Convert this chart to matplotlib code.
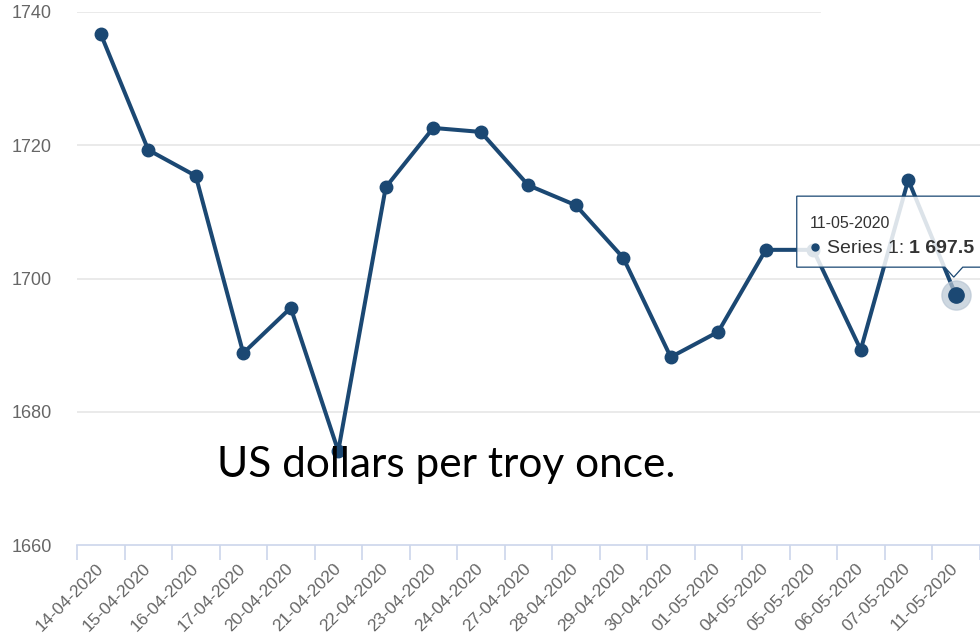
import matplotlib.pyplot as plt
import matplotlib.transforms as mtransforms
from matplotlib.path import Path
from matplotlib.patches import PathPatch

plt.rcParams["font.family"] = ["Liberation Sans", "DejaVu Sans"]

dates = [
    "14-04-2020", "15-04-2020", "16-04-2020", "17-04-2020", "20-04-2020",
    "21-04-2020", "22-04-2020", "23-04-2020", "24-04-2020", "27-04-2020",
    "28-04-2020", "29-04-2020", "30-04-2020", "01-05-2020", "04-05-2020",
    "05-05-2020", "06-05-2020", "07-05-2020", "11-05-2020",
]
prices = [
    1736.7, 1719.3, 1715.4, 1688.8, 1695.6,
    1674.1, 1713.7, 1722.6, 1722.0, 1714.0,
    1711.0, 1703.1, 1688.2, 1692.0, 1704.3,
    1704.3, 1689.3, 1714.8, 1697.5,
]
y_ticks = [1660, 1680, 1700, 1720, 1740]
series_name = "Series 1"
note = "US dollars per troy once."

LINE = "#1b4873"
GRID = "#e6e6e6"
AXIS = "#ccd6eb"
LABEL = "#666666"

fig = plt.figure(figsize=(9.8, 6.41), dpi=100)
ax = fig.add_axes([77 / 980, 96 / 641, 902.5 / 980, 533 / 641])

x = list(range(len(dates)))
ax.set_xlim(-0.5, len(dates) - 0.5)
ax.set_ylim(y_ticks[0], y_ticks[-1])

# horizontal grid (top line is shorter in the original)
for v in y_ticks[1:]:
    ax.axhline(v, color=GRID, lw=1.2, zorder=0,
               xmax=0.823 if v == y_ticks[-1] else 1)

for side in ["top", "right", "left"]:
    ax.spines[side].set_visible(False)
ax.spines["bottom"].set_color(AXIS)
ax.spines["bottom"].set_linewidth(1.2)

# category labels in the middle, tick marks on the boundaries
ax.set_xticks(x, labels=dates)
ax.set_xticks([i - 0.5 for i in range(len(dates) + 1)], minor=True)
ax.tick_params(axis="x", which="major", length=0, pad=15,
               labelsize=12.5, labelcolor=LABEL)
ax.tick_params(axis="x", which="minor", length=11, width=1.2, color=AXIS)
for lbl in ax.get_xticklabels():
    lbl.set_rotation(45)
    lbl.set_ha("right")
    lbl.set_va("center")
    lbl.set_rotation_mode("anchor")

ax.set_yticks(y_ticks)
ax.tick_params(axis="y", length=0, pad=18, labelsize=13, labelcolor=LABEL)

ax.plot(x, prices, color=LINE, lw=2.9, marker="o", ms=9,
        solid_joinstyle="round", zorder=3, clip_on=False)

# hovered point
ax.plot(x[-1], prices[-1], "o", ms=21, color="#b9c6d4", alpha=0.7,
        zorder=4, clip_on=False)
ax.plot(x[-1], prices[-1], "o", ms=11, color=LINE, zorder=5, clip_on=False)

# tooltip, in pixel offsets from the hovered point
tt = mtransforms.ScaledTranslation(x[-1], prices[-1], ax.transData)
left, right, top, bottom = -159, 60, 99, 28
verts = [(left, top), (right, top), (right, bottom), (7, bottom),
         (-2, 18), (-11, bottom), (left, bottom), (left, top)]
codes = [Path.MOVETO] + [Path.LINETO] * 6 + [Path.CLOSEPOLY]
box = PathPatch(Path(verts, codes), facecolor=(1, 1, 1, 0.85),
                edgecolor=LINE, lw=0.9, transform=tt, zorder=6,
                clip_on=False)
ax.add_patch(box)

ax.text(-146, 67, dates[-1], transform=tt, fontsize=11.5, color="#333333",
        va="baseline", zorder=7, clip_on=False)
ax.plot([-141], [48], "o", ms=5, color=LINE, transform=tt, zorder=7,
        clip_on=False)
t1 = ax.text(-129, 42, f"{series_name}: ", transform=tt, fontsize=14,
             color="#333333", va="baseline", zorder=7, clip_on=False)
value_txt = f"{prices[-1]:,.1f}".replace(",", " ")
ax.annotate(value_txt, xy=(1, 0), xycoords=t1, fontsize=14,
            fontweight="bold", color="#333333", va="bottom", zorder=7)

fig.text(217 / 980, 1 - 477 / 641, note, fontfamily=["Lato", "DejaVu Sans"],
         fontsize=30.5, color="black", va="baseline")

fig.savefig("out.png", dpi=100)
